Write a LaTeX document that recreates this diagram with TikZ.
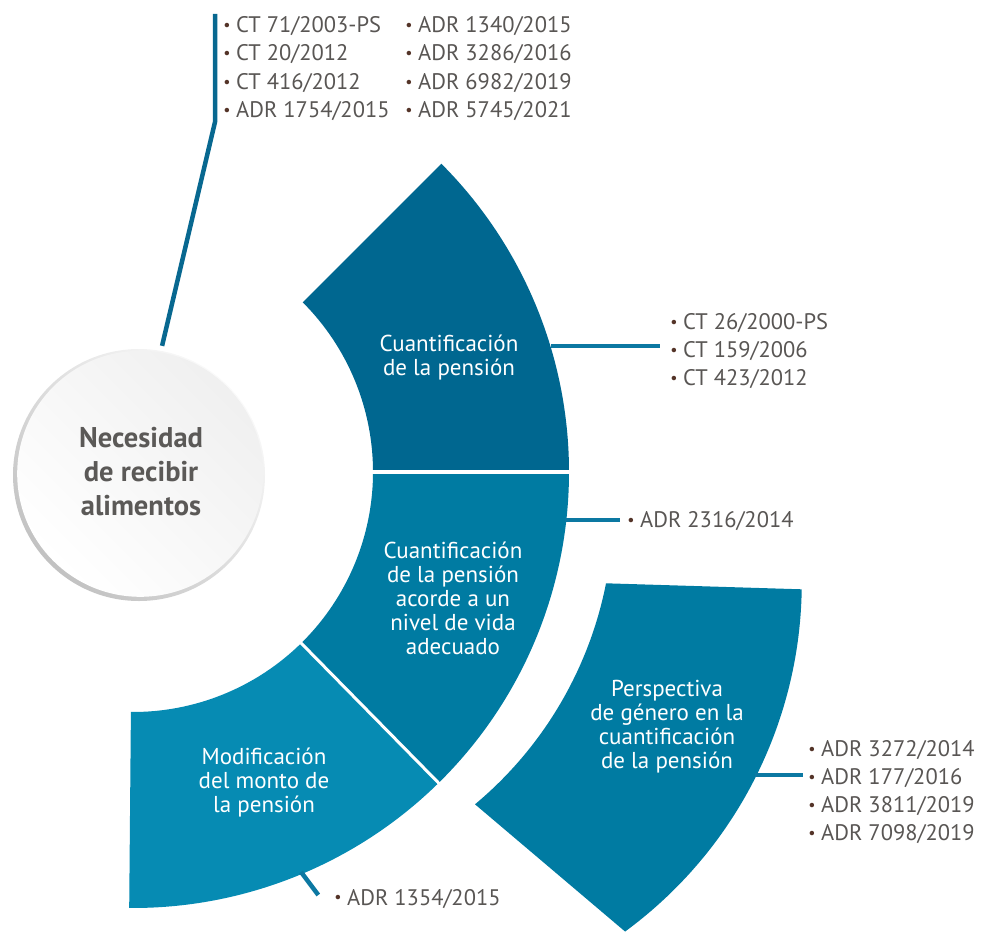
\documentclass[tikz,border=0pt]{standalone}
\usepackage{fontspec}
\setmainfont{PT Sans}
\usetikzlibrary{calc}
\definecolor{topc}{RGB}{0,103,144}
\definecolor{midc}{RGB}{0,123,162}
\definecolor{botc}{RGB}{6,139,179}
\definecolor{perc}{RGB}{0,123,162}
\definecolor{connA}{RGB}{8,104,144}
\definecolor{connB}{RGB}{12,120,162}
\definecolor{txtc}{RGB}{89,86,84}
\definecolor{bulc}{RGB}{84,52,40}
\definecolor{circtxt}{RGB}{91,89,87}
\newcommand{\bul}{\makebox[0pt][r]{\raisebox{2.2pt}{\fontsize{16}{16}\selectfont\color{bulc}•}\hspace{5.5pt}}}
\begin{document}
\begin{tikzpicture}[x=1pt,y=-1pt,
  lst/.style={anchor=base west, inner sep=0pt, font=\fontsize{22.5}{28}\selectfont, text=txtc},
  lbl/.style={align=center, inner sep=0pt, text=white, font=\fontsize{23}{24}\selectfont},
  conn/.style={draw=connB, line width=4.5pt},
]
\useasboundingbox (0,0) rectangle (981,933);
\coordinate (O) at (133,472);
% ring sectors
\fill[topc] ($(O)+(-45:436)$) arc[start angle=-45,end angle=0,radius=436] -- ($(O)+(0:240)$) arc[start angle=0,end angle=-45,radius=240] -- cycle;
\fill[midc] ($(O)+(0:436)$) arc[start angle=0,end angle=45.5,radius=436] -- ($(O)+(45.5:240)$) arc[start angle=45.5,end angle=0,radius=240] -- cycle;
\fill[botc] ($(O)+(45.5:436)$) arc[start angle=45.5,end angle=90.5,radius=436] -- ($(O)+(90.5:240)$) arc[start angle=90.5,end angle=45.5,radius=240] -- cycle;
\draw[white, line width=4pt] ($(O)+(0:230)$) -- ($(O)+(0:446)$);
\draw[white, line width=3pt] ($(O)+(45.5:230)$) -- ($(O)+(45.5:446)$);
% detached sector
\fill[perc] (606,583.3) -- (801.7,589.3) arc[start angle=0.87,end angle=53.72,radius=432.7] -- (475,804.3) arc[start angle=50.16,end angle=11.16,radius=384.9] -- cycle;
% circle
\shade[top color=black!2, bottom color=black!24, shading angle=-45] (139,475) circle[radius=126];
\shade[top color=black!6, bottom color=white, shading angle=-45] (140.2,473.8) circle[radius=123];
\node[circle, minimum size=252pt, inner sep=0pt] (circ) at (139,475) {};
\node[align=center, inner sep=0pt, text=circtxt, font=\bfseries\fontsize{28.5}{34}\selectfont] (circlbl) at (141,472) {Necesidad\\de recibir\\alimentos};
% labels
\node[lbl] (q1) at (449,358) {Cuantificación\\de la pensión};
\node[lbl] (q2) at (453,598) {Cuantificación\\de la pensión\\acorde a un\\nivel de vida\\adecuado};
\node[lbl] (q3) at (264,783) {Modificación\\del monto de\\la pensión};
\node[lbl] (q4) at (667,727) {Perspectiva\\de género en la\\cuantificación\\de la pensión};
% lists
\node[lst] (a1) at (236,32.7) {\bul CT 71/2003-PS};
\node[lst] (a2) at (236,61) {\bul CT 20/2012};
\node[lst] (a3) at (236,89.3) {\bul CT 416/2012};
\node[lst] (a4) at (236,117.7) {\bul ADR 1754/2015};
\node[lst] (b1) at (418,32.7) {\bul ADR 1340/2015};
\node[lst] (b2) at (418,61) {\bul ADR 3286/2016};
\node[lst] (b3) at (418,89.3) {\bul ADR 6982/2019};
\node[lst] (b4) at (418,117.7) {\bul ADR 5745/2021};
\node[lst] (c1) at (683,329.3) {\bul CT 26/2000-PS};
\node[lst] (c2) at (683,357.3) {\bul CT 159/2006};
\node[lst] (c3) at (683,385.3) {\bul CT 423/2012};
\node[lst] (d1) at (640,527.3) {\bul ADR 2316/2014};
\node[lst] (e1) at (821,756.7) {\bul ADR 3272/2014};
\node[lst] (e2) at (821,784.7) {\bul ADR 177/2016};
\node[lst] (e3) at (821,812.7) {\bul ADR 3811/2019};
\node[lst] (e4) at (821,840.7) {\bul ADR 7098/2019};
\node[lst] (f1) at (347,905) {\bul ADR 1354/2015};
% connectors
\coordinate (bend) at (215,122);
\coordinate (topend) at (215,14);
\draw[conn, draw=connA, line join=round, shorten <=5pt] (circ.80) -- (bend) -- (topend);
\coordinate (k1a) at (551,346); \coordinate (k1b) at (660,346);
\draw[conn] (k1a) -- (k1b);
\coordinate (k2a) at (565,520); \coordinate (k2b) at (620,520);
\draw[conn] (k2a) -- (k2b);
\coordinate (k3a) at (755,775); \coordinate (k3b) at (803,775);
\draw[conn] (k3a) -- (k3b);
\coordinate (k4a) at (301,872); \coordinate (k4b) at (318.3,895);
\draw[conn] (k4a) -- (k4b);
\end{tikzpicture}
\end{document}
